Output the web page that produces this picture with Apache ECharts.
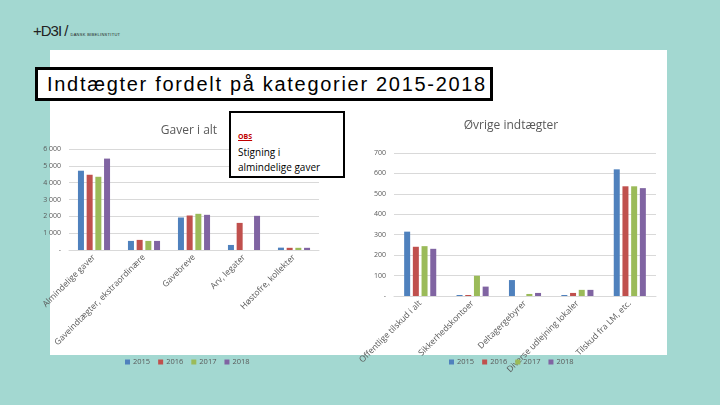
<!DOCTYPE html>
<html>
<head>
    <meta charset="utf-8">
    <title>Indtægter fordelt på kategorier 2015-2018</title>
    <script src="https://cdn.jsdelivr.net/npm/echarts@6.0.0/dist/echarts.min.js"></script>
    <style>
        body {
            margin: 0;
            width: 720px;
            height: 405px;
            background: #a3d8d1;
            position: relative;
            overflow: hidden;
            font-family: "Liberation Sans", Arial, sans-serif;
        }

        .logo {
            position: absolute;
            left: 33px;
            top: 22px;
            font-size: 15px;
            color: #222;
            letter-spacing: -1px;
        }

        .logo small {
            font-size: 4px;
            letter-spacing: 0.3px;
            margin-left: 3px;
        }

        .slide {
            position: absolute;
            left: 50px;
            top: 50px;
            width: 617px;
            height: 305px;
            background: #fff;
        }

        #chart {
            position: absolute;
            left: 0;
            top: 0;
            width: 720px;
            height: 405px;
        }

        .title-box {
            position: absolute;
            left: 35px;
            top: 67px;
            width: 443px;
            height: 28px;
            border: 3px solid #000;
            background: #fff;
            font-size: 20px;
            line-height: 29px;
            padding-left: 9px;
            letter-spacing: 1.7px;
            color: #000;
            white-space: nowrap;
        }

        .obs-box {
            position: absolute;
            left: 229px;
            top: 111px;
            width: 112px;
            height: 63px;
            border: 2px solid #000;
            background: #fff;
            font-family: "Open Sans", "DejaVu Sans", sans-serif;
            color: #000;
        }

        .obs-box .obs {
            position: absolute;
            left: 7px;
            top: 19px;
            font-size: 7px;
            font-weight: bold;
            color: #c00000;
            text-decoration: underline;
        }

        .obs-box .txt {
            position: absolute;
            left: 7px;
            top: 32px;
            font-size: 10px;
            line-height: 15px;
        }
    </style>
</head>
<body>
    <div class="logo">+D3I /<small>DANSK BIBELINSTITUT</small></div>
    <div class="slide"></div>
    <div id="chart"></div>
    <div class="title-box">Indtægter fordelt på kategorier 2015-2018</div>
    <div class="obs-box">
        <div class="obs">OBS</div>
        <div class="txt">Stigning i<br>almindelige gaver</div>
    </div>

    <script>
        // 年份 / serier
        var years = ['2015', '2016', '2017', '2018'];
        var colors = ['#4f81bd', '#c0504d', '#9bbb59', '#8064a2'];

        // Gaver i alt
        var gaverKategorier = ['Almindelige gaver', 'Gaveindtægter, ekstraordinære', 'Gavebreve', 'Arv, legater', 'Høstofre, kollekter'];
        var gaver2015 = [4710, 540, 1930, 300, 140];
        var gaver2016 = [4470, 600, 2050, 1610, 130];
        var gaver2017 = [4350, 540, 2150, 0, 130];
        var gaver2018 = [5430, 540, 2090, 2030, 130];

        // Øvrige indtægter
        var ovrigeKategorier = ['Offentlige tilskud i alt', 'Sikkerhedskontoer', 'Deltagergebyrer', 'Diverse udlejning lokaler', 'Tilskud fra LM, etc.'];
        var ovrige2015 = [315, 5, 78, 5, 620];
        var ovrige2016 = [241, 5, 0, 15, 537];
        var ovrige2017 = [244, 99, 10, 30, 537];
        var ovrige2018 = [231, 46, 15, 30, 528];

        var gaverData = [gaver2015, gaver2016, gaver2017, gaver2018];
        var ovrigeData = [ovrige2015, ovrige2016, ovrige2017, ovrige2018];

        var myChart = echarts.init(document.getElementById('chart'));

        function fmtTusind(v) {
            if (v === 0) return '-';
            return String(v).replace(/\B(?=(\d{3})+(?!\d))/g, ' ');
        }

        var axisLabelStyle = { color: '#595959', fontSize: 7, fontFamily: 'Open Sans' };

        function xAxisFor(grid, cats) {
            return {
                type: 'category',
                gridIndex: grid,
                data: cats,
                axisTick: { show: false },
                axisLine: { lineStyle: { color: '#d9d9d9' } },
                axisLabel: {
                    interval: 0,
                    rotate: 45,
                    margin: 6,
                    color: '#595959',
                    fontSize: 8.5,
                    fontFamily: 'Open Sans'
                }
            };
        }

        function yAxisFor(grid, max, interval) {
            return {
                type: 'value',
                gridIndex: grid,
                min: 0,
                max: max,
                interval: interval,
                axisLine: { show: false },
                axisTick: { show: false },
                splitLine: { lineStyle: { color: '#d9d9d9' } },
                axisLabel: Object.assign({ formatter: fmtTusind, margin: 8 }, axisLabelStyle)
            };
        }

        var series = [];
        years.forEach(function (y, i) {
            series.push({
                name: y, type: 'bar', xAxisIndex: 0, yAxisIndex: 0,
                data: gaverData[i], barWidth: 6, barGap: '45%',
                itemStyle: { color: colors[i] }
            });
        });
        years.forEach(function (y, i) {
            series.push({
                name: y, type: 'bar', xAxisIndex: 1, yAxisIndex: 1,
                data: ovrigeData[i], barWidth: 6, barGap: '45%',
                itemStyle: { color: colors[i] }
            });
        });

        var legendBase = {
            data: years,
            icon: 'rect',
            itemWidth: 5,
            itemHeight: 5,
            itemGap: 8,
            top: 353,
            textStyle: { color: '#595959', fontSize: 7.5, fontFamily: 'Open Sans', padding: [0, 0, 0, -2] }
        };

        myChart.setOption({
            backgroundColor: 'transparent',
            animation: false,
            color: colors,
            title: [
                {
                    text: 'Gaver i alt', left: 184, top: 120, textAlign: 'center',
                    textStyle: { color: '#595959', fontSize: 12, fontWeight: 'normal', fontFamily: 'Open Sans' }
                },
                {
                    text: 'Øvrige indtægter', left: 506, top: 115, textAlign: 'center',
                    textStyle: { color: '#595959', fontSize: 12, fontWeight: 'normal', fontFamily: 'Open Sans' }
                }
            ],
            legend: [
                Object.assign({ left: 120 }, legendBase),
                Object.assign({ left: 444 }, legendBase)
            ],
            grid: [
                { left: 69, width: 250, top: 149, height: 101 },
                { left: 394, width: 262, top: 153, height: 143 }
            ],
            xAxis: [xAxisFor(0, gaverKategorier), xAxisFor(1, ovrigeKategorier)],
            yAxis: [yAxisFor(0, 6000, 1000), yAxisFor(1, 700, 100)],
            series: series
        });
    </script>
</body>
</html>
